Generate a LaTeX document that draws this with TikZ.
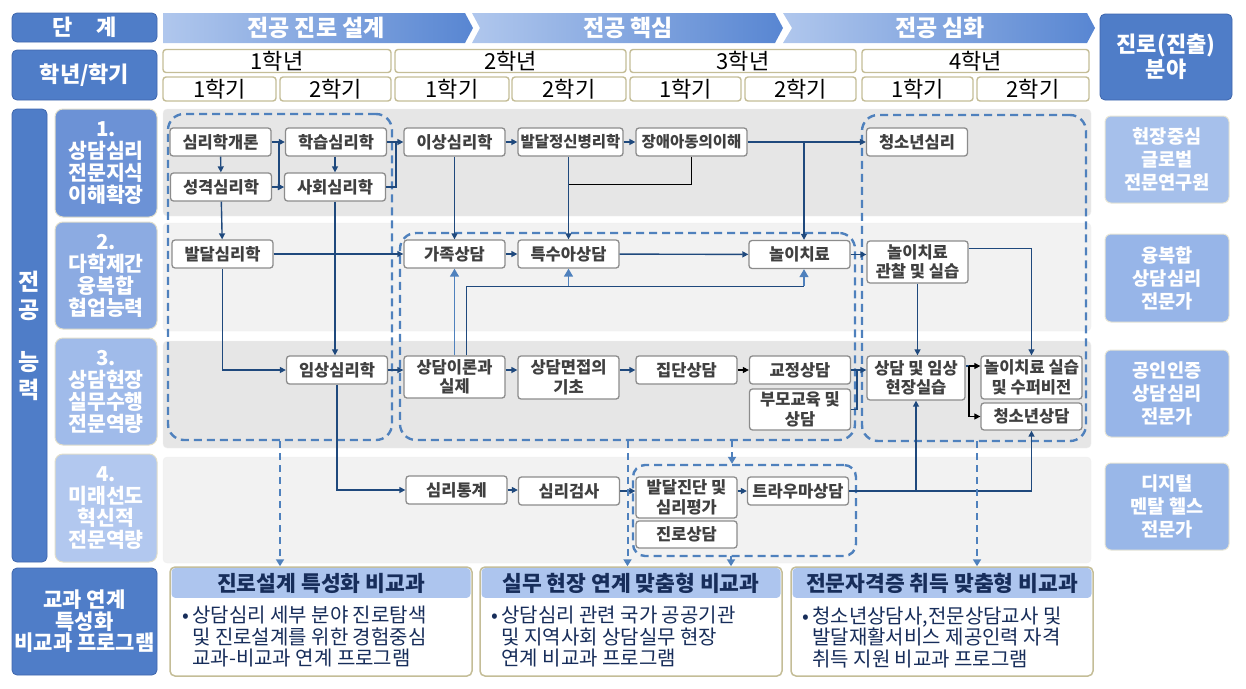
\documentclass[tikz,border=0pt]{standalone}
\usepackage{fontspec}
\setmainfont{Noto Sans CJK KR}
\usetikzlibrary{arrows.meta}
\definecolor{linknavy}{RGB}{31,73,125}
\definecolor{lightlink}{RGB}{79,129,189}
\definecolor{dashblue}{RGB}{79,129,189}
\definecolor{headblue}{RGB}{79,125,200}
\definecolor{headedge}{RGB}{62,102,172}
\definecolor{rowone}{RGB}{108,146,214}
\definecolor{rowtwo}{RGB}{140,171,226}
\definecolor{rowthree}{RGB}{160,187,234}
\definecolor{rowfour}{RGB}{178,200,239}
\definecolor{careerone}{RGB}{166,192,235}
\definecolor{careerblue}{RGB}{151,181,232}
\definecolor{bandgrey}{RGB}{230,230,230}
\definecolor{bandlight}{RGB}{242,242,242}
\definecolor{tanline}{RGB}{196,189,151}
\definecolor{proghead}{RGB}{173,197,238}
\definecolor{progtext}{RGB}{23,45,90}
\definecolor{nodegrey}{RGB}{140,140,140}
\definecolor{nodetext}{RGB}{64,64,64}
\definecolor{chevlight}{RGB}{176,199,237}
\definecolor{chevdark}{RGB}{88,134,210}

\begin{document}
\begin{tikzpicture}[x=1pt, y=-1pt]
    \useasboundingbox (0, 0) rectangle (1246, 688);
    \tikzset{HeadBox/.style={draw=headedge, fill=headblue, rounded corners=5pt, line width=0.8pt, text=white, font=\bfseries\fontsize{22}{25}\selectfont, align=center, inner sep=0pt}}
    \tikzset{StageText/.style={text=white, font=\bfseries\fontsize{23}{25}\selectfont, inner sep=0pt}}
    \tikzset{RowBox/.style={draw=tanline!50, rounded corners=8pt, line width=1pt, text=white, font=\bfseries\fontsize{20.5}{22}\selectfont, align=center, inner sep=0pt, minimum width=102, minimum height=108}}
    \tikzset{CareerBox/.style={draw=tanline!40, rounded corners=6pt, line width=1pt, text=white, font=\bfseries\fontsize{18.7}{23}\selectfont, align=center, inner sep=0pt, minimum width=124, minimum height=87}}
    \tikzset{YearBox/.style={draw=tanline, fill=white, rounded corners=3pt, line width=1.4pt, font=\fontsize{22}{22}\selectfont, inner sep=0pt, minimum height=23}}
    \tikzset{CourseNode/.style={draw=nodegrey, fill=white, rounded corners=3pt, line width=1.3pt, text=nodetext, font=\bfseries\fontsize{16.5}{19.5}\selectfont, align=center, inner sep=0pt, minimum width=101, minimum height=28}}
    \tikzset{GroupBox/.style={draw=dashblue, dash pattern=on 8pt off 5pt, line width=2.4pt, rounded corners=16pt, inner sep=0pt}}
    \tikzset{ProgBox/.style={draw=tanline, fill=white, rounded corners=5pt, line width=1.5pt, minimum width=302, minimum height=109, inner sep=0pt}}
    \tikzset{ProgHead/.style={fill=proghead, rounded corners=4pt, text=progtext, font=\bfseries\fontsize{21.5}{24}\selectfont, minimum width=299, minimum height=30, inner sep=0pt, anchor=north}}
    \tikzset{ProgBody/.style={text=progtext, font=\fontsize{20}{21.5}\selectfont, align=left, inner sep=0pt, anchor=west}}
    \tikzset{Connection/.style={-{Triangle[length=6pt, width=6pt]}, draw=linknavy, line width=1.4pt}}
    \tikzset{BlackConnection/.style={-{Triangle[length=6pt, width=6pt]}, draw=black, line width=1.2pt}}
    \tikzset{ThinConnection/.style={-{Triangle[length=6pt, width=6pt]}, draw=linknavy, line width=0.9pt}}
    \tikzset{Link/.style={draw=linknavy, line width=1.4pt}}
    \tikzset{ThinLink/.style={draw=linknavy, line width=0.9pt}}
    \tikzset{LightConnection/.style={-{Triangle[length=8pt, width=9pt]}, draw=lightlink, line width=1.4pt}}
    \tikzset{DashConnection/.style={-{Triangle[length=7pt, width=8pt]}, draw=dashblue, dash pattern=on 7pt off 5pt, line width=2pt}}

    % header
    \node[HeadBox, minimum width=145, minimum height=29] (stage-label) at (84.5, 27.5) {단\hspace{1.1em}계};
    \shade[left color=chevlight, right color=chevdark] (163, 13) -- (465, 13) -- (473, 28) -- (465, 43) -- (163, 43) -- cycle;
    \shade[left color=chevlight, right color=chevdark] (472, 13) -- (775, 13) -- (783, 28) -- (775, 43) -- (472, 43) -- (480, 28) -- cycle;
    \shade[left color=chevlight, right color=chevdark] (783, 13) -- (1087, 13) -- (1095, 28) -- (1087, 43) -- (783, 43) -- (792, 28) -- cycle;
    \node[StageText] (stage-1) at (316, 28) {전공 진로 설계};
    \node[StageText] (stage-2) at (628, 28) {전공 핵심};
    \node[StageText] (stage-3) at (940, 28) {전공 심화};
    \node[HeadBox, minimum width=145, minimum height=50] (year-label) at (84.5, 75) {학년/학기};
    \node[HeadBox, minimum width=132, minimum height=86] (field-label) at (1166, 57) {진로(진출)\\분야};

    % years and terms
    \node[YearBox, minimum width=228] (year-1) at (277, 61) {1학년};
    \node[YearBox, minimum width=231] (year-2) at (510.5, 61) {2학년};
    \node[YearBox, minimum width=226] (year-3) at (743, 61) {3학년};
    \node[YearBox, minimum width=227] (year-4) at (975.5, 61) {4학년};
    \node[YearBox, minimum width=113, minimum height=24] (term-1-1) at (219.5, 89) {1학기};
    \node[YearBox, minimum width=111, minimum height=24] (term-1-2) at (335.5, 89) {2학기};
    \node[YearBox, minimum width=114, minimum height=24] (term-2-1) at (452, 89) {1학기};
    \node[YearBox, minimum width=114, minimum height=24] (term-2-2) at (569, 89) {2학기};
    \node[YearBox, minimum width=111, minimum height=24] (term-3-1) at (685.5, 89) {1학기};
    \node[YearBox, minimum width=111, minimum height=24] (term-3-2) at (800.5, 89) {2학기};
    \node[YearBox, minimum width=111, minimum height=24] (term-4-1) at (917.5, 89) {1학기};
    \node[YearBox, minimum width=112, minimum height=24] (term-4-2) at (1033, 89) {2학기};

    % competency rows
    \node[HeadBox, minimum width=35, minimum height=453, font=\bfseries\fontsize{23}{28}\selectfont] (ability-label) at (29.5, 335.5) {전\\공\\[24pt]능\\력};
    \node[RowBox, fill=rowone] (row-1) at (106, 163) {1.\\상담심리\\전문지식\\이해확장};
    \node[RowBox, fill=rowtwo, minimum height=107] (row-2) at (106, 275.5) {2.\\다학제간\\융복합\\협업능력};
    \node[RowBox, fill=rowthree, minimum height=107] (row-3) at (106, 391.5) {3.\\상담현장\\실무수행\\전문역량};
    \node[RowBox, fill=rowfour] (row-4) at (106, 508) {4.\\미래선도\\혁신적\\전문역량};
    \fill[bandgrey, draw=black!6, rounded corners=4pt] (163, 109) rectangle (1091, 216); % band 1
    \fill[bandlight, draw=black!6, rounded corners=4pt] (163, 223) rectangle (1091, 331); % band 2
    \fill[bandgrey, draw=black!6, rounded corners=4pt] (163, 341) rectangle (1091, 448); % band 3
    \fill[bandlight, draw=black!6, rounded corners=4pt] (163, 457) rectangle (1091, 563); % band 4

    % careers
    \node[CareerBox, fill=careerone] (career-1) at (1167, 159.5) {현장중심\\글로벌\\전문연구원};
    \node[CareerBox, fill=careerblue, minimum height=88] (career-2) at (1167, 278) {융복합\\상담심리\\전문가};
    \node[CareerBox, fill=careerblue] (career-3) at (1167, 393.5) {공인인증\\상담심리\\전문가};
    \node[CareerBox, fill=careerblue!85!careerone] (career-4) at (1167, 506.5) {디지털\\멘탈 헬스\\전문가};

    % groups
    \node[GroupBox, minimum width=224, minimum height=326] (group-1) at (280, 277) {};
    \node[GroupBox, minimum width=455, minimum height=207] (group-2) at (627.5, 336.5) {};
    \node[GroupBox, minimum width=224, minimum height=326] (group-3) at (974, 278) {};
    \node[GroupBox, minimum width=223, minimum height=91, rounded corners=12pt] (group-4) at (744.5, 510.5) {};

    % courses
    \node[CourseNode] (psy-intro) at (220.5, 142) {심리학개론};
    \node[CourseNode] (learn) at (336, 142) {학습심리학};
    \node[CourseNode] (person) at (221, 187) {성격심리학};
    \node[CourseNode] (social) at (335, 187) {사회심리학};
    \node[CourseNode] (abnormal) at (454.5, 142) {이상심리학};
    \node[CourseNode, minimum width=105, font=\bfseries\fontsize{15.5}{18}\selectfont] (devpath) at (570.5, 142) {발달정신병리학};
    \node[CourseNode, minimum width=111, font=\bfseries\fontsize{15.5}{18}\selectfont] (disabled) at (691.5, 142) {장애아동의이해};
    \node[CourseNode] (youth) at (917, 142) {청소년심리};
    \node[CourseNode] (devpsy) at (222.5, 254) {발달심리학};
    \node[CourseNode] (family) at (454.5, 254) {가족상담};
    \node[CourseNode] (special) at (568.5, 254) {특수아상담};
    \node[CourseNode] (play) at (799.5, 254.5) {놀이치료};
    \node[CourseNode, minimum height=42] (playobs) at (917.5, 262) {놀이치료\\관찰 및 실습};
    \node[CourseNode] (clinic) at (337, 370) {임상심리학};
    \node[CourseNode, minimum height=42] (theory) at (454.5, 377) {상담이론과\\실제};
    \node[CourseNode, minimum height=43] (interview) at (568.5, 377.5) {상담면접의\\기초};
    \node[CourseNode] (group) at (686.5, 370) {집단상담};
    \node[CourseNode] (correct) at (800, 370) {교정상담};
    \node[CourseNode, minimum height=41] (parent) at (800, 409.5) {부모교육 및\\상담};
    \node[CourseNode, minimum width=98, minimum height=44] (practicum) at (916, 378) {상담 및 임상\\현장실습};
    \node[CourseNode, minimum height=43] (playsup) at (1031.5, 377.5) {놀이치료 실습\\및 수퍼비전};
    \node[CourseNode, minimum height=27] (youthc) at (1031.5, 416.5) {청소년상담};
    \node[CourseNode] (stats) at (456.5, 490) {심리통계};
    \node[CourseNode] (test) at (569, 491) {심리검사};
    \node[CourseNode, minimum height=41] (diag) at (686.5, 497.5) {발달진단 및\\심리평가};
    \node[CourseNode] (trauma) at (798, 491) {트라우마상담};
    \node[CourseNode, minimum height=27] (career) at (686.5, 534.5) {진로상담};

    % programs
    \node[HeadBox, minimum width=145, minimum height=107, font=\bfseries\fontsize{21}{21.5}\selectfont] (link-label) at (84.5, 621.5) {교과 연계\\특성화\\비교과 프로그램};
    \node[ProgBox] (prog-1) at (321, 621.5) {};
    \node[ProgBox] (prog-2) at (631, 621.5) {};
    \node[ProgBox] (prog-3) at (942, 621.5) {};
    \node[ProgHead] (prog-1-head) at ([yshift=-1.5pt]prog-1.north) {진로설계 특성화 비교과};
    \node[ProgHead] (prog-2-head) at ([yshift=-1.5pt]prog-2.north) {실무 현장 연계 맞춤형 비교과};
    \node[ProgHead] (prog-3-head) at ([yshift=-1.5pt]prog-3.north) {전문자격증 취득 맞춤형 비교과};
    \node[ProgBody] (prog-1-body) at (182, 637) {•\,상담심리 세부 분야 진로탐색\\\hphantom{•\,}및 진로설계를 위한 경험중심\\\hphantom{•\,}교과-비교과 연계 프로그램};
    \node[ProgBody] (prog-2-body) at (491, 637) {•\,상담심리 관련 국가 공공기관\\\hphantom{•\,}및 지역사회 상담실무 현장\\\hphantom{•\,}연계 비교과 프로그램};
    \node[ProgBody] (prog-3-body) at (802, 637) {•\,청소년상담사,전문상담교사 및\\\hphantom{•\,}발달재활서비스 제공인력 자격\\\hphantom{•\,}취득 지원 비교과 프로그램};

    % row 1 links
    \coordinate (split-1) at (279, 142);
    \coordinate (join-1) at (396, 142);
    \coordinate (split-2) at (804, 142);
    \coordinate (join-2) at (568.5, 184);
    \draw[Connection] (psy-intro) -- (person);
    \draw[Connection] (learn.south -| social) -- (social);
    \draw[Connection] (psy-intro) -- (learn);
    \draw[Connection] (split-1) |- (social.west);
    \draw[Connection] (person) -- (social);
    \draw[Connection] (learn) -- (abnormal);
    \draw[Link] (social.east) -| (join-1);
    \draw[Connection] (abnormal) -- (devpath);
    \draw[Connection] (devpath) -- (disabled);
    \draw[Connection] (disabled) -- (youth);
    \draw[Connection] (split-2) -- (split-2 |- play.north);
    \draw[Connection] (abnormal) -- (family);
    \draw[Connection] (devpath.south -| special) -- (special);
    \draw[ThinLink, draw=black] (disabled.south) |- (join-2);

    % row 2 links
    \coordinate (rise-1) at (466, 286);
    \coordinate (rise-2) at (804, 286);
    \draw[Connection] (person) -- (devpsy);
    \draw[Connection] (social.south) -- (social.south |- clinic.north);
    \draw[Connection] (devpsy) -- (family);
    \draw[Connection] (family) -- (special);
    \draw[Connection] (special) -- (play);
    \draw[Connection] (play.east) -- (play.east -| playobs.west);
    \draw[Connection] (devpsy.south) |- (clinic.west);
    \draw[Connection] (playobs.south) -- (playobs.south |- practicum.north);
    \draw[ThinConnection] ([yshift=14pt]playobs.east) -| (playsup.north);
    \draw[LightConnection] (theory) -- (family);
    \draw[ThinLink] ([xshift=11.5pt]theory.north) |- (rise-2);
    \draw[LightConnection] (special |- rise-1) -- (special.south);
    \draw[LightConnection] (rise-2) -- (rise-2 |- play.south);

    % row 3 links
    \coordinate (join-3) at (857, 370);
    \coordinate (split-3) at (969, 366);
    \draw[Connection] (clinic.east) -- (clinic.east -| theory.west);
    \draw[Connection] (theory.east |- group) -- (interview.west |- group);
    \draw[Connection] (interview.east |- group) -- (group);
    \draw[BlackConnection] (group) -- (correct);
    \draw[Connection] (correct.east) -- (correct.east -| practicum.west);
    \draw[Link] (parent.east) -| (join-3);
    \draw[Link] (practicum.east |- split-3) -- (split-3);
    \draw[BlackConnection] (split-3) -- (split-3 -| playsup.west);
    \draw[BlackConnection] (split-3) |- (youthc.west);
    \draw[Connection] (clinic.south) |- (stats.west);

    % row 4 links
    \coordinate (join-4) at (1031.5, 491);
    \draw[Connection] (stats.east) -- (stats.east -| test.west);
    \draw[Connection] (test.east) -- (test.east -| diag.west);
    \draw[Connection] (diag.east |- trauma) -- (trauma);
    \draw[Link] (trauma.east) -- (join-4);
    \draw[Connection] (practicum.south |- join-4) -- (practicum.south);
    \draw[Connection] (join-4) -- (youthc.south);

    % dashed drops
    \coordinate (drop-1) at (732, 440);
    \coordinate (drop-2) at (731, 556);
    \coordinate (drop-3) at (977, 441);
    \draw[DashConnection] (group-1.south) -- (group-1.south |- prog-1.north);
    \draw[DashConnection] (group-2.south) -- (group-2.south |- prog-2.north);
    \draw[DashConnection] (drop-1) -- (drop-1 |- group-4.north);
    \draw[DashConnection] (drop-2) -- (drop-2 |- prog-2.north);
    \draw[DashConnection] (drop-3) -- (drop-3 |- prog-3.north);
\end{tikzpicture}
\end{document}
